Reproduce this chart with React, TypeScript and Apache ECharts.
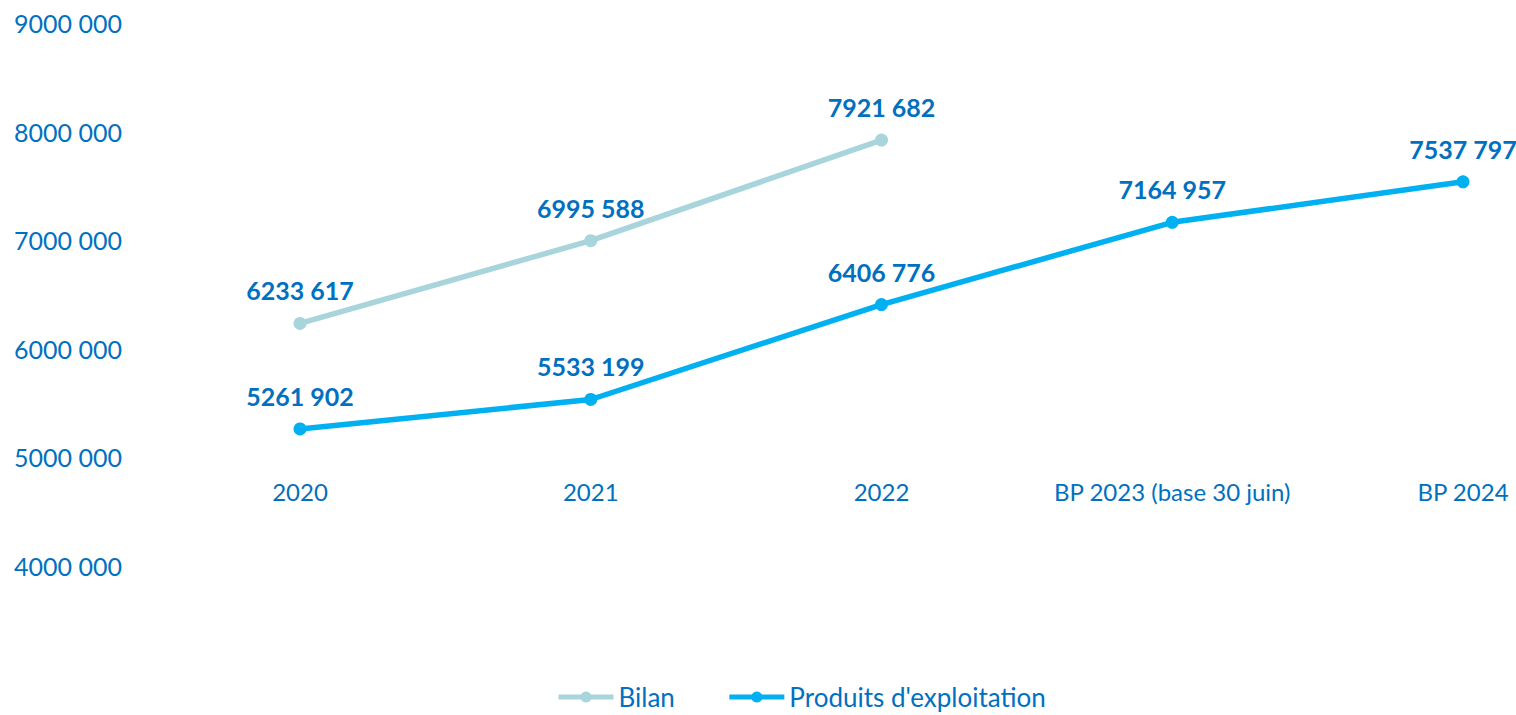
import React, { useEffect, useRef } from "react";
import * as echarts from "echarts";

const categories = ["2020", "2021", "2022", "BP 2023 (base 30 juin)", "BP 2024"];
const bilan = [6233617, 6995588, 7921682, null, null];
const produits = [5261902, 5533199, 6406776, 7164957, 7537797];
const seriesNames = ["Bilan", "Produits d'exploitation"];

const fmt = (v: number) => {
  const k = Math.floor(v / 1000);
  const r = Math.round(v % 1000);
  return `${k} ${String(r).padStart(3, "0")}`;
};

const TEXT = "#0070C0";
const FONT = "Lato";

export default function App() {
  const ref = useRef<HTMLDivElement>(null);
  useEffect(() => {
    const chart = echarts.init(ref.current!, null, { renderer: "svg" });
    const label = {
      show: true,
      position: "top",
      distance: 14,
      color: TEXT,
      fontFamily: FONT,
      fontWeight: "bold",
      fontSize: 25,
      formatter: (p: any) => fmt(p.value),
    };
    chart.setOption({
      animation: false,
      grid: { left: 300, right: 53, top: 23, bottom: 149 },
      legend: {
        bottom: 0,
        left: 551,
        itemWidth: 55,
        itemHeight: 14,
        itemGap: 52,
        lineStyle: { width: 5 },
        textStyle: { color: TEXT, fontFamily: FONT, fontSize: 26 },
        data: seriesNames,
      },
      xAxis: {
        type: "category",
        data: categories,
        boundaryGap: false,
        offset: -109,
        axisLine: { show: false },
        axisTick: { show: false },
        axisLabel: { color: TEXT, fontFamily: FONT, fontSize: 24, margin: 22, interval: 0 },
      },
      yAxis: {
        type: "value",
        min: 4000000,
        max: 9000000,
        interval: 1000000,
        splitLine: { show: false },
        axisLine: { show: false },
        axisTick: { show: false },
        axisLabel: {
          color: TEXT,
          fontFamily: FONT,
          fontSize: 25,
          margin: 178,
          formatter: (v: number) => fmt(v),
        },
      },
      series: [
        {
          name: seriesNames[0],
          type: "line",
          data: bilan,
          symbol: "circle",
          symbolSize: 13,
          lineStyle: { width: 5.5, color: "#A8D4DC" },
          itemStyle: { color: "#A8D4DC" },
          label,
        },
        {
          name: seriesNames[1],
          type: "line",
          data: produits,
          symbol: "circle",
          symbolSize: 13,
          lineStyle: { width: 5.5, color: "#00B0F0" },
          itemStyle: { color: "#00B0F0" },
          label,
        },
      ],
    });
    return () => chart.dispose();
  }, []);
  return (
    <div
      ref={ref}
      style={{ position: "fixed", left: 0, top: 0, width: 1516, height: 715, background: "#fff" }}
    />
  );
}
